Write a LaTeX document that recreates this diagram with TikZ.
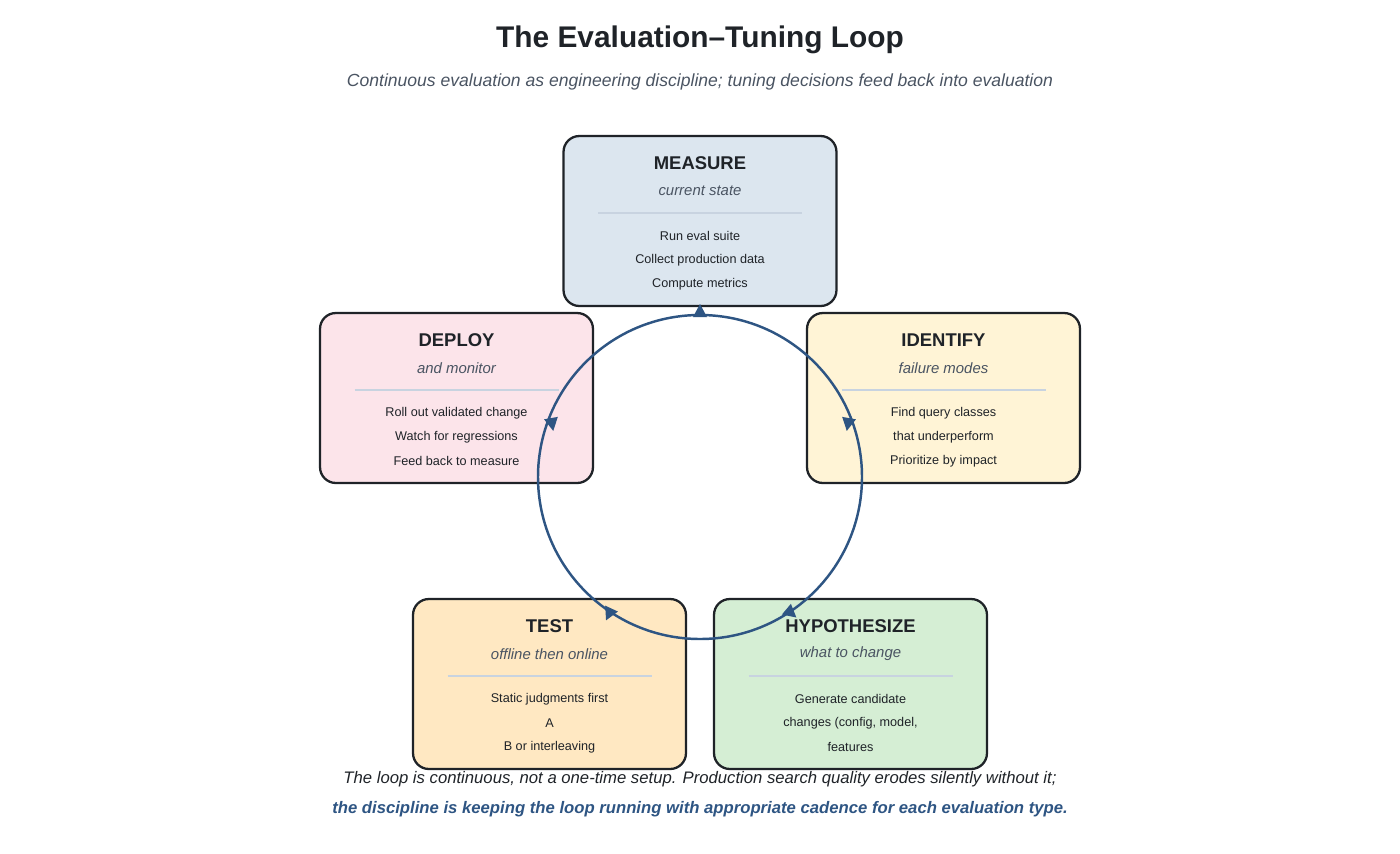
\documentclass[tikz,border=0pt]{standalone}
\usepackage{fontspec}
\setmainfont{Liberation Sans}
\usetikzlibrary{positioning,calc}
\definecolor{ink}{HTML}{1F2328}
\definecolor{loopblue}{HTML}{2E5583}
\definecolor{subgray}{HTML}{4A5462}
\definecolor{rulegray}{HTML}{C8D3E0}
\definecolor{measurefill}{HTML}{DCE6EF}
\definecolor{deployfill}{HTML}{FCE4EA}
\definecolor{identifyfill}{HTML}{FFF4D6}
\definecolor{testfill}{HTML}{FFE8C2}
\definecolor{hypofill}{HTML}{D5EED4}
\tikzset{
  stagebox/.style={draw=ink,line width=1.3pt,rounded corners=9pt,minimum width=5.46cm,minimum height=3.4cm},
  stagetitle/.style={font=\fontsize{10.5}{12}\selectfont\bfseries,text=ink},
  stagesub/.style={font=\fontsize{8.5}{10}\selectfont\itshape,text=subgray},
  stageitem/.style={font=\fontsize{7.2}{9}\selectfont,text=ink},
}
\newcommand{\looptip}[3]{\fill[loopblue,shift={(#1,#2)},rotate=#3] (7,0) -- (-6,-7) -- (-6,7) -- cycle;}
\begin{document}
\begin{tikzpicture}[x=0.02cm,y=-0.02cm]
\useasboundingbox (0,0) rectangle (1400,853);
\node (title) at (700,40) {\fontsize{17}{20}\selectfont\bfseries\color{ink}The Evaluation–Tuning Loop};
\node (subtitle) at (700,82) {\fontsize{10}{12}\selectfont\itshape\color{subgray}Continuous evaluation as engineering discipline; tuning decisions feed back into evaluation};
% stages
\foreach \n/\x/\y/\c/\t/\s/\la/\lb/\lc in {
  measure/700/221/measurefill/MEASURE/current state/Run eval suite/Collect production data/Compute metrics,
  deploy/456.5/398/deployfill/DEPLOY/and monitor/Roll out validated change/Watch for regressions/Feed back to measure,
  identify/943.5/398/identifyfill/IDENTIFY/failure modes/Find query classes/that underperform/Prioritize by impact,
  test/549.5/684/testfill/TEST/offline then online/Static judgments first/A/B or interleaving/for surviving candidates,
  hypo/850.5/684/hypofill/HYPOTHESIZE/what to change/Generate candidate/{changes (config, model,}/features}{
  \node[stagebox,fill=\c] (\n) at (\x,\y) {};
  \node[stagetitle] (\n-t) at ($(\n.north)+(0,28)$) {\t};
  \node[stagesub] (\n-s) at ($(\n.north)+(0,56)$) {\s};
  \draw[rulegray,line width=1pt] ($(\n.north)+(-102,78)$) -- ($(\n.north)+(102,78)$);
  \node[stageitem] (\n-a) at ($(\n.north)+(0,101)$) {\la};
  \node[stageitem] (\n-b) at ($(\n.north)+(0,125)$) {\lb};
  \node[stageitem] (\n-c) at ($(\n.north)+(0,149)$) {\lc};
}
% loop
\coordinate (hub) at (700,477);
\draw[loopblue,line width=1.4pt] (hub) circle (162);
\looptip{700}{311}{90}
\looptip{848}{424}{-100}
\looptip{791}{613}{-40}
\looptip{609}{614}{-115}
\looptip{552}{424}{-80}
\node (note1) at (700,779) {\fontsize{9.5}{11}\selectfont\itshape\color{ink}The loop is continuous, not a one-time setup. Production search quality erodes silently without it;};
\node (note2) at (700,809) {\fontsize{9.5}{11}\selectfont\bfseries\itshape\color{loopblue}the discipline is keeping the loop running with appropriate cadence for each evaluation type.};
\end{tikzpicture}
\end{document}
